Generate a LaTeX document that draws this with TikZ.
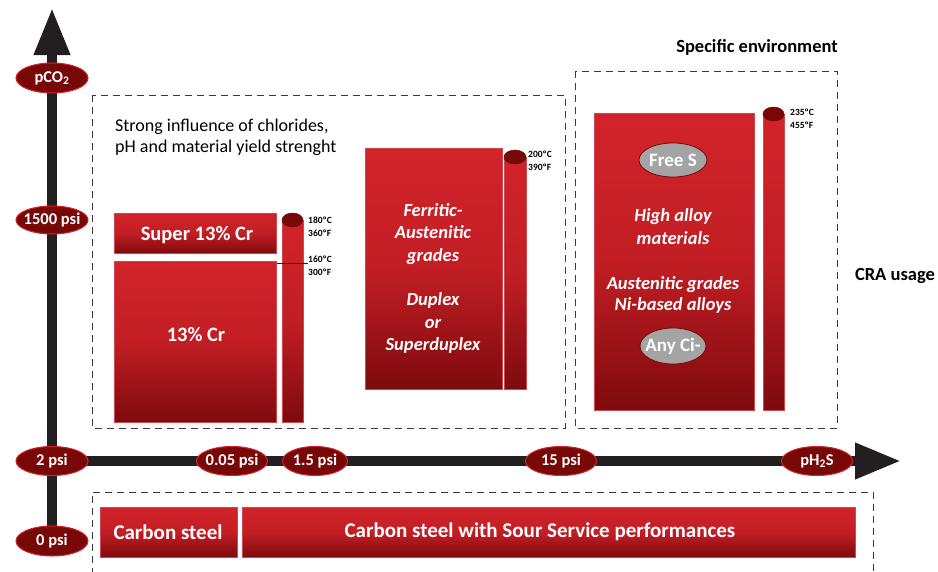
\documentclass[tikz,border=0pt]{standalone}
\usepackage{fontspec}
\setmainfont{Carlito}
\usetikzlibrary{shapes.geometric,arrows.meta}
\definecolor{axisc}{HTML}{231F20}
\definecolor{dred}{HTML}{780808}
\definecolor{bred}{HTML}{D2232A}
\definecolor{gred}{HTML}{7E0A0D}
\definecolor{edgec}{HTML}{D0464E}
\definecolor{grayc}{HTML}{A4A4A4}
\definecolor{dashc}{HTML}{3A3A3A}
\newcommand\zw[1]{\makebox[0pt]{#1}}
\tikzset{
  axislab/.style={ellipse, fill=dred, draw=bred, line width=1pt, text=white,
    font=\fontsize{16.5}{17}\selectfont\bfseries, inner sep=0pt, minimum height=29pt, minimum width=72pt},
  graylab/.style={ellipse, fill=grayc, draw=dred, line width=0.8pt, text=white,
    font=\fontsize{19}{19}\selectfont\bfseries, inner sep=0pt},
  redbox/.style={draw=edgec, line width=0.9pt, top color=bred, bottom color=gred,
    middle color=bred!80!gred, text=white, inner sep=0pt, anchor=north west},
  boxtxt/.style={text=white, font=\fontsize{20.5}{22}\selectfont\bfseries},
  ittxt/.style={text=white, align=center, font=\fontsize{18.5}{22.5}\selectfont\bfseries\itshape},
  templab/.style={anchor=west, align=left, font=\fontsize{9.5}{13}\selectfont\bfseries, inner sep=0pt},
  dashbox/.style={draw=dashc, line width=0.9pt, dash pattern=on 7pt off 5pt},
  axisline/.style={draw=axisc, line width=10pt},
  cylbody/.style={draw=edgec, line width=0.8pt, top color=bred, bottom color=gred, middle color=bred!80!gred},
  cyltop/.style={fill=dred, draw=dred, line width=0.5pt},
  plain/.style={font=\fontsize{18}{21}\selectfont, align=left, inner sep=0pt},
  headtxt/.style={font=\fontsize{18.5}{20}\selectfont\bfseries, inner sep=0pt}
}
\begin{document}
\begin{tikzpicture}[x=1pt,y=-1pt]
\useasboundingbox (0,0) rectangle (938,571);
% dashed regions
\draw[dashbox] (92,95) rectangle (565,428);
\draw[dashbox] (575,71) rectangle (837,428);
\draw[dashbox] (92,575) -- (92,492) -- (873,492) -- (873,575);
% axes
\coordinate (vtip) at (52,8);
\coordinate (vbot) at (52,541);
\coordinate (orig) at (52,461);
\coordinate (htip) at (901,461);
\draw[axisline, -{Triangle[length=47pt,width=34pt]}] (vbot) -- (vtip);
\draw[axisline, -{Triangle[length=46pt,width=34pt]}] (orig) -- (htip);
% axis labels
\node[axislab, minimum height=30pt] (pco2) at (52,78) {\zw{pCO\textsubscript{2}}};
\node[axislab, minimum height=28pt] (p1500) at (52,220) {\zw{1500 psi}};
\node[axislab] (p2) at (52,461) {\zw{2 psi}};
\node[axislab, minimum height=30pt] (p0) at (52,541) {\zw{0 psi}};
\node[axislab, minimum width=71pt] (p005) at (232,461) {\zw{0.05 psi}};
\node[axislab, minimum width=65pt] (p15) at (315,461) {\zw{1.5 psi}};
\node[axislab, minimum width=71pt] (p15b) at (561,461) {\zw{15 psi}};
\node[axislab, minimum width=71pt] (ph2s) at (817,461) {\zw{pH\textsubscript{2}S}};
% texts
\node[plain, anchor=north west] (strong) at (115,119) {Strong influence of chlorides,\\pH and material yield strenght};
\node[headtxt] (spec) at (757,47) {Specific environment};
\node[headtxt] (cra) at (895,276) {CRA usage};
% 13% Cr group
\node[redbox, minimum width=162pt, minimum height=40pt] (super) at (114,213) {};
\node[boxtxt] (supert) at (197,235) {Super 13\% Cr};
\node[redbox, minimum width=162pt, minimum height=161pt] (cr13) at (114,261) {};
\node[boxtxt] (cr13t) at (196,335) {13\% Cr};
\draw[cylbody] (282,220) rectangle (303,422);
\draw[cyltop] (292.5,220) ellipse (10.5pt and 7pt);
\node[templab] (t180) at (308,227) {180ºC\\360ºF};
\node[templab] (t160) at (308,266) {160ºC\\300ºF};
\coordinate (l160) at (308,263);
\draw[axisc, line width=0.7pt] (cr13.north east) ++(0,2) -- (l160);
% duplex group
\node[redbox, minimum width=137pt, minimum height=241pt] (dup) at (365,148) {};
\node[ittxt] (dupt1) at (433,234) {Ferritic-\\Austenitic\\grades};
\node[ittxt] (dupt2) at (433,323) {Duplex\\or\\Superduplex};
\draw[cylbody] (504,157) rectangle (526,389);
\draw[cyltop] (515,157) ellipse (11pt and 7pt);
\node[templab] (t200) at (528,161) {200ºC\\390ºF};
% high alloy group
\node[redbox, minimum width=160pt, minimum height=297pt] (high) at (594,113) {};
\node[graylab, minimum width=68pt, minimum height=34pt] (frees) at (673,160) {\zw{Free S}};
\node[ittxt, font=\fontsize{18.5}{23}\selectfont\bfseries\itshape] (hight1) at (673,227) {High alloy\\materials};
\node[ittxt, font=\fontsize{18.5}{21}\selectfont\bfseries\itshape] (hight2) at (673,295) {Austenitic grades\\Ni-based alloys};
\node[graylab, minimum width=66pt, minimum height=36pt] (anyci) at (673,346) {\zw{Any Ci-}};
\draw[cylbody] (763,114) rectangle (784,410);
\draw[cyltop] (773.5,114) ellipse (10.5pt and 7pt);
\node[templab] (t235) at (790,119) {235ºC\\455ºF};
% bottom row
\node[redbox, minimum width=137pt, minimum height=50pt] (cs) at (100,507) {};
\node[boxtxt, font=\fontsize{21}{22}\selectfont\bfseries] (cst) at (168,532) {Carbon steel};
\node[redbox, minimum width=613pt, minimum height=50pt] (sour) at (242,507) {};
\node[boxtxt, font=\fontsize{21}{22}\selectfont\bfseries] (sourt) at (540,532) {Carbon steel with Sour Service performances};
\end{tikzpicture}
\end{document}
